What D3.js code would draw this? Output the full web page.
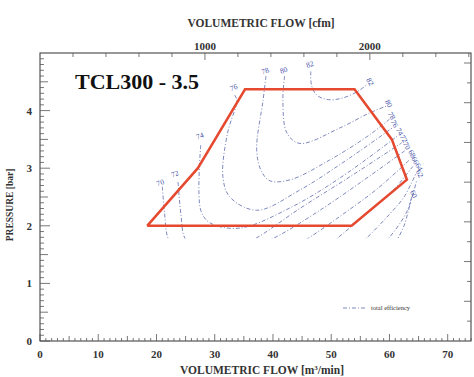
<!DOCTYPE html>
<html>
<head>
<meta charset="utf-8">
<script src="https://cdn.jsdelivr.net/npm/d3@7"></script>
<style>
  body { margin: 0; background: #fff; }
  text { font-family: "Liberation Serif", "DejaVu Serif", serif; }
</style>
</head>
<body>
<div class="chart"></div>
<script>
// axis ticks
var flowTicks = [0, 10, 20, 30, 40, 50, 60, 70];
var pressureTicks = [0, 1, 2, 3, 4];
var cfmTicks = [1000, 2000];

// operating envelope [m3/min, bar]
var envelope = [[18.4, 2.0], [27.1, 3.0], [35.2, 4.37], [54.0, 4.37], [60.4, 3.5], [63.0, 2.8], [53.5, 2.0], [18.4, 2.0]];

// efficiency contours
var contour82 = [[46.5, 4.68], [46.6, 4.45], [47.5, 4.27], [49.5, 4.19], [52, 4.22], [54.5, 4.33], [56, 4.44]];
var contour80 = [[42, 4.6], [41.7, 4.18], [42.4, 3.61], [44.6, 3.43], [51.5, 3.7], [56.6, 3.96], [59.5, 4.08]];
var contour78 = [[38.8, 4.6], [38.3, 4.18], [37.2, 3.32], [38, 2.95], [39.5, 2.78], [43, 2.8], [49.7, 3.14], [56.6, 3.58], [60, 3.85]];
var contour76 = [[33.4, 4.27], [33.8, 4.18], [32.2, 3.61], [31.4, 2.85], [32.6, 2.5], [37.2, 2.27], [44.6, 2.62], [53.2, 3.18], [60.5, 3.7]];
var contour74 = [[27.6, 3.4], [27.6, 2.27], [29.2, 2.05], [34.3, 1.96], [42.9, 2.31], [51.5, 2.83], [61.4, 3.56]];
var contour72 = [[23.7, 2.76], [24.2, 2.19], [24.9, 1.78], [27, 1.6], [33, 1.6], [37, 1.78], [44.6, 2.3], [53.2, 2.85], [62.1, 3.44]];
var contour70 = [[21.0, 2.68], [21.4, 2.2], [22, 1.78], [24, 1.5], [33, 1.5], [40, 1.78], [47, 2.2], [55, 2.75], [62.6, 3.3]];
var contour68 = [[43, 1.6], [46, 1.78], [52, 2.2], [58, 2.65], [63.5, 3.15]];
var contour66 = [[49, 1.6], [51, 1.78], [56, 2.2], [60.5, 2.6], [64, 3.03]];
var contour64 = [[54, 1.6], [56, 1.78], [60, 2.2], [62.5, 2.5], [64.6, 2.92]];
var contour62 = [[58, 1.6], [60, 1.8], [63, 2.25], [64.7, 2.8]];
var contour60 = [[61, 1.7], [62.5, 2.0], [63.8, 2.5]];
var contours = [contour82, contour80, contour78, contour76, contour74, contour72, contour70,
                contour68, contour66, contour64, contour62, contour60];

// contour labels: left/top side and right side
var leftLabels = [["70", 20.8, 2.71], ["72", 23.3, 2.86], ["74", 27.6, 3.52], ["76", 33.4, 4.36],
                  ["78", 38.8, 4.65], ["80", 42.0, 4.66], ["82", 46.5, 4.76]];
var rightLabels = [["82", 56.3, 4.48], ["80", 59.5, 4.1], ["78", 60.0, 3.89], ["76", 60.5, 3.75],
                   ["74", 61.4, 3.61], ["72", 62.1, 3.49], ["70", 62.6, 3.37], ["68", 63.5, 3.23],
                   ["66", 64.0, 3.11], ["64", 64.7, 3.0], ["62", 64.8, 2.88], ["60", 63.8, 2.53]];

var width = 474, height = 377;
var M3_PER_CFM = 0.0283168, BAR_PER_PSI = 0.0689476;

var svg = d3.select(".chart").append("svg")
  .attr("width", width)
  .attr("height", height);

var x = d3.scaleLinear().domain([0, 74]).range([40, 471]);
var y = d3.scaleLinear().domain([0, 5]).range([341, 53]);

// frame
svg.append("rect")
  .attr("x", x(0)).attr("y", y(5))
  .attr("width", x(74) - x(0)).attr("height", y(0) - y(5))
  .attr("fill", "none").attr("stroke", "#333").attr("stroke-width", 1);

// bottom minor ticks (inward)
svg.append("g").selectAll("line")
  .data(d3.range(0, 75, 1))
  .enter().append("line")
  .attr("x1", d => x(d)).attr("x2", d => x(d))
  .attr("y1", y(0)).attr("y2", d => y(0) - (d % 10 === 0 ? 7 : d % 5 === 0 ? 5 : 3))
  .attr("stroke", "#555").attr("stroke-width", 0.8);

// left minor ticks
svg.append("g").selectAll("line")
  .data(d3.range(0, 50, 1).map(d => d / 10))
  .enter().append("line")
  .attr("y1", d => y(d)).attr("y2", d => y(d))
  .attr("x1", x(0)).attr("x2", (d, i) => x(0) + (i % 10 === 0 ? 10 : i % 5 === 0 ? 8 : 4))
  .attr("stroke", "#555").attr("stroke-width", 0.8);

// top ticks in cfm
svg.append("g").selectAll("line")
  .data(d3.range(200, 2601, 200))
  .enter().append("line")
  .attr("x1", d => x(d * M3_PER_CFM)).attr("x2", d => x(d * M3_PER_CFM))
  .attr("y1", y(5)).attr("y2", d => y(5) + (d % 1000 === 0 ? 7 : 4))
  .attr("stroke", "#555").attr("stroke-width", 0.8);

// right ticks in psi
svg.append("g").selectAll("line")
  .data(d3.range(5, 71, 5))
  .enter().append("line")
  .attr("y1", d => y(d * BAR_PER_PSI)).attr("y2", d => y(d * BAR_PER_PSI))
  .attr("x1", x(74)).attr("x2", d => x(74) - (d % 10 === 0 ? 7 : 4))
  .attr("stroke", "#555").attr("stroke-width", 0.8);

// tick labels
svg.append("g").selectAll("text")
  .data(flowTicks)
  .enter().append("text")
  .attr("x", d => x(d)).attr("y", 358)
  .attr("text-anchor", "middle")
  .attr("font-size", 11).attr("font-weight", "bold").attr("fill", "#333")
  .text(d => d);

svg.append("g").selectAll("text")
  .data(pressureTicks)
  .enter().append("text")
  .attr("x", 32).attr("y", d => y(d) + 4)
  .attr("text-anchor", "end")
  .attr("font-size", 11).attr("font-weight", "bold").attr("fill", "#333")
  .text(d => d);

svg.append("g").selectAll("text")
  .data(cfmTicks)
  .enter().append("text")
  .attr("x", d => x(d * M3_PER_CFM)).attr("y", 50)
  .attr("text-anchor", "middle")
  .attr("font-size", 11).attr("font-weight", "bold").attr("fill", "#333")
  .text(d => d);

// axis titles
svg.append("text")
  .attr("x", 261).attr("y", 27).attr("text-anchor", "middle")
  .attr("font-size", 11.5).attr("font-weight", "bold").attr("fill", "#333")
  .text("VOLUMETRIC FLOW [cfm]");

var bt = svg.append("text")
  .attr("x", 262).attr("y", 374).attr("text-anchor", "middle")
  .attr("font-size", 11.5).attr("font-weight", "bold").attr("fill", "#333");
bt.append("tspan").text("VOLUMETRIC FLOW [m");
bt.append("tspan").attr("dy", -4).attr("font-size", 7).text("3");
bt.append("tspan").attr("dy", 4).text("/min]");

svg.append("text")
  .attr("transform", "translate(13,205) rotate(-90)")
  .attr("text-anchor", "middle")
  .attr("font-size", 9.5).attr("font-weight", "bold").attr("fill", "#333")
  .text("PRESSURE [bar]");

// model name
svg.append("text")
  .attr("x", 75).attr("y", 89)
  .attr("font-size", 22).attr("font-weight", "bold").attr("fill", "#111")
  .text("TCL300 - 3.5");

// contours
svg.append("clipPath").attr("id", "clip")
  .append("rect")
  .attr("x", x(0)).attr("y", y(5))
  .attr("width", x(74) - x(0)).attr("height", y(1.78) - y(5));

var line = d3.line().x(d => x(d[0])).y(d => y(d[1])).curve(d3.curveCatmullRom);

svg.append("g").attr("clip-path", "url(#clip)")
  .selectAll("path")
  .data(contours)
  .enter().append("path")
  .attr("d", line)
  .attr("fill", "none")
  .attr("stroke", "#6f7ab5")
  .attr("stroke-width", 0.9)
  .attr("stroke-dasharray", "4,2,1,2");

svg.append("g").selectAll("text")
  .data(leftLabels)
  .enter().append("text")
  .attr("transform", d => "translate(" + x(d[1]) + "," + y(d[2]) + ") rotate(-20)")
  .attr("text-anchor", "middle")
  .attr("font-size", 7.5).attr("fill", "#3f4fa6")
  .text(d => d[0]);

svg.append("g").selectAll("text")
  .data(rightLabels)
  .enter().append("text")
  .attr("transform", d => "translate(" + x(d[1]) + "," + y(d[2]) + ") rotate(60)")
  .attr("text-anchor", "middle")
  .attr("font-size", 7.5).attr("fill", "#3f4fa6")
  .text(d => d[0]);

// envelope
svg.append("path")
  .datum(envelope)
  .attr("d", d3.line().x(d => x(d[0])).y(d => y(d[1])))
  .attr("fill", "none")
  .attr("stroke", "#e5492f")
  .attr("stroke-width", 2.5)
  .attr("stroke-linejoin", "miter");

// legend
svg.append("line")
  .attr("x1", 343).attr("x2", 365).attr("y1", 308).attr("y2", 308)
  .attr("stroke", "#6f7ab5").attr("stroke-width", 0.9)
  .attr("stroke-dasharray", "4,2,1,2");
svg.append("text")
  .attr("x", 371).attr("y", 310)
  .attr("font-size", 6.5).attr("fill", "#333")
  .text("total efficiency");
</script>
</body>
</html>
